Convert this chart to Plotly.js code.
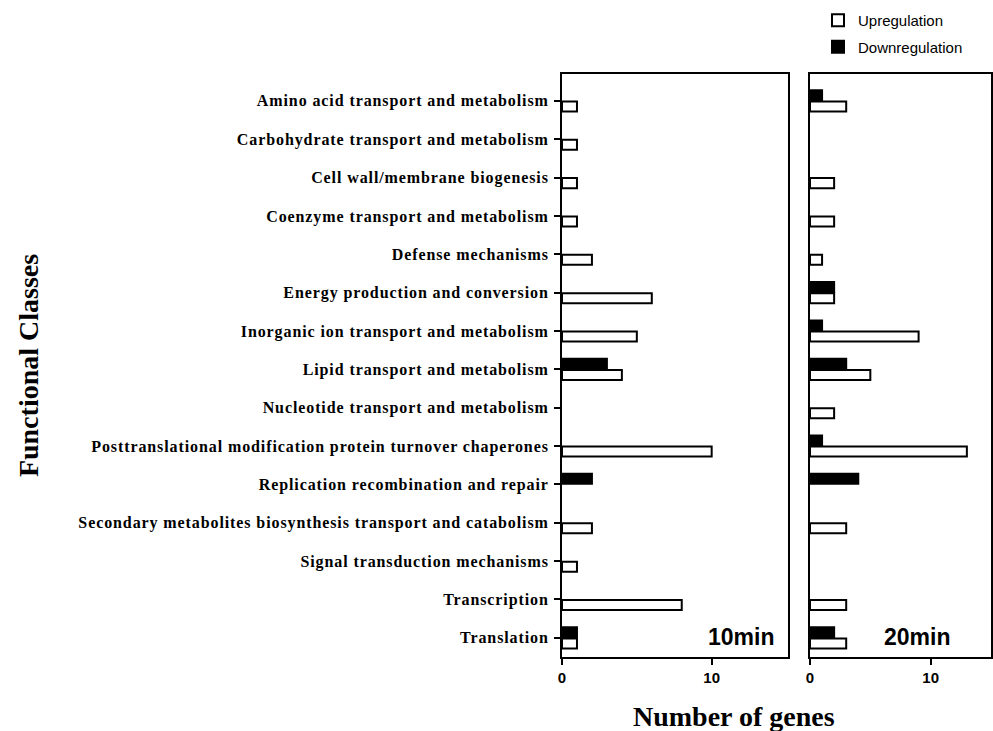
<!DOCTYPE html>
<html>
<head>
<meta charset="utf-8">
<script src="https://cdn.plot.ly/plotly-3.0.1.min.js"></script>
<style>
html,body{margin:0;padding:0;background:#fff;}
#chart{width:993px;height:731px;}
.ytick text{letter-spacing:0.9px;}
</style>
</head>
<body>
<div id="chart"></div>
<script>
const categories = [
  "Amino acid transport and metabolism",
  "Carbohydrate transport and metabolism",
  "Cell wall/membrane biogenesis",
  "Coenzyme transport and metabolism",
  "Defense mechanisms",
  "Energy production and conversion",
  "Inorganic ion transport and metabolism",
  "Lipid transport and metabolism",
  "Nucleotide transport and metabolism",
  "Posttranslational modification protein turnover chaperones",
  "Replication recombination and repair",
  "Secondary metabolites biosynthesis transport and catabolism",
  "Signal transduction mechanisms",
  "Transcription",
  "Translation"
];
const up10   = [1, 1, 1, 1, 2, 6, 5, 4, 0, 10, 0, 2, 1, 8, 1];
const down10 = [0, 0, 0, 0, 0, 0, 0, 3, 0, 0, 2, 0, 0, 0, 1];
const up20   = [3, 0, 2, 2, 1, 2, 9, 5, 2, 13, 0, 3, 0, 3, 3];
const down20 = [1, 0, 0, 0, 0, 2, 1, 3, 0, 1, 4, 0, 0, 0, 2];
const xTicks = [0, 10];

const lineW = 2;
function barTrace(x, name, fill, xa, ya, show, rank){
  return {
    type: 'bar', orientation: 'h',
    x: x.map(v => v === 0 ? null : v), y: categories, name: name,
    xaxis: xa, yaxis: ya, showlegend: show, legendgroup: name, legendrank: rank,
    marker: {color: fill, line: {color: '#000', width: lineW}},
    hoverinfo: 'x+y'
  };
}
const data = [
  barTrace(down10, 'Downregulation', '#000', 'x', 'y', true, 2),
  barTrace(up10, 'Upregulation', '#fff', 'x', 'y', true, 1),
  barTrace(down20, 'Downregulation', '#000', 'x2', 'y2', false, 2),
  barTrace(up20, 'Upregulation', '#fff', 'x2', 'y2', false, 1)
];

const H = 731, W = 993;
const yTop = 74, yBot = 657;
const yDom = [1 - yBot / H, 1 - yTop / H];
const axCommon = {
  showgrid: false, zeroline: false, showline: true, linecolor: '#000', linewidth: 2,
  mirror: true, ticks: 'outside', ticklen: 6, tickwidth: 2, tickcolor: '#000'
};
const tickFontX = {family: 'Liberation Sans, Arial, sans-serif', size: 15, color: '#000', weight: 'bold'};

const layout = {
  width: W, height: H,
  margin: {l: 0, r: 0, t: 0, b: 0},
  paper_bgcolor: '#fff', plot_bgcolor: '#fff',
  barmode: 'group', bargap: 0.42, bargroupgap: 0.1,
  showlegend: true,
  legend: {
    x: 818 / W, y: 1 - 4 / H, xanchor: 'left', yanchor: 'top',
    font: {family: 'Liberation Sans, Arial, sans-serif', size: 15, color: '#000'},
    tracegroupgap: 4, itemwidth: 30, bgcolor: 'rgba(0,0,0,0)'
  },
  xaxis: Object.assign({}, axCommon, {
    domain: [562 / W, 788 / W], range: [0, 15.1], anchor: 'y',
    tickmode: 'array', tickvals: xTicks, ticktext: xTicks.map(String),
    tickfont: tickFontX
  }),
  xaxis2: Object.assign({}, axCommon, {
    domain: [810 / W, 991 / W], range: [0, 15], anchor: 'y2',
    tickmode: 'array', tickvals: xTicks, ticktext: xTicks.map(String),
    tickfont: tickFontX
  }),
  yaxis: Object.assign({}, axCommon, {
    domain: yDom, anchor: 'x', type: 'category',
    categoryorder: 'array', categoryarray: categories,
    range: [14.5, -0.7],
    tickfont: {family: 'Liberation Serif, Times New Roman, serif', size: 16, color: '#000', weight: 'bold'},
    ticklabelstandoff: 2,
    title: {text: 'Functional Classes', standoff: 32,
      font: {family: 'Liberation Serif, Times New Roman, serif', size: 28, color: '#000', weight: 'bold'}}
  }),
  yaxis2: Object.assign({}, axCommon, {
    domain: yDom, anchor: 'x2', type: 'category',
    categoryorder: 'array', categoryarray: categories,
    range: [14.5, -0.7], showticklabels: false, ticks: ''
  }),
  annotations: [
    {text: 'Number of genes', xref: 'paper', yref: 'paper', x: 734 / W, y: 1 - 716 / H,
     xanchor: 'center', yanchor: 'middle', showarrow: false,
     font: {family: 'Liberation Serif, Times New Roman, serif', size: 28, color: '#000', weight: 'bold'}},
    {text: '10min', xref: 'paper', yref: 'paper', x: 776 / W, y: 1 - 637 / H,
     xanchor: 'right', yanchor: 'middle', showarrow: false,
     font: {family: 'Liberation Sans, Arial, sans-serif', size: 23, color: '#000', weight: 'bold'}},
    {text: '20min', xref: 'paper', yref: 'paper', x: 952 / W, y: 1 - 637 / H,
     xanchor: 'right', yanchor: 'middle', showarrow: false,
     font: {family: 'Liberation Sans, Arial, sans-serif', size: 23, color: '#000', weight: 'bold'}}
  ]
};

Plotly.newPlot('chart', data, layout, {displayModeBar: false, staticPlot: true});
</script>
</body>
</html>
